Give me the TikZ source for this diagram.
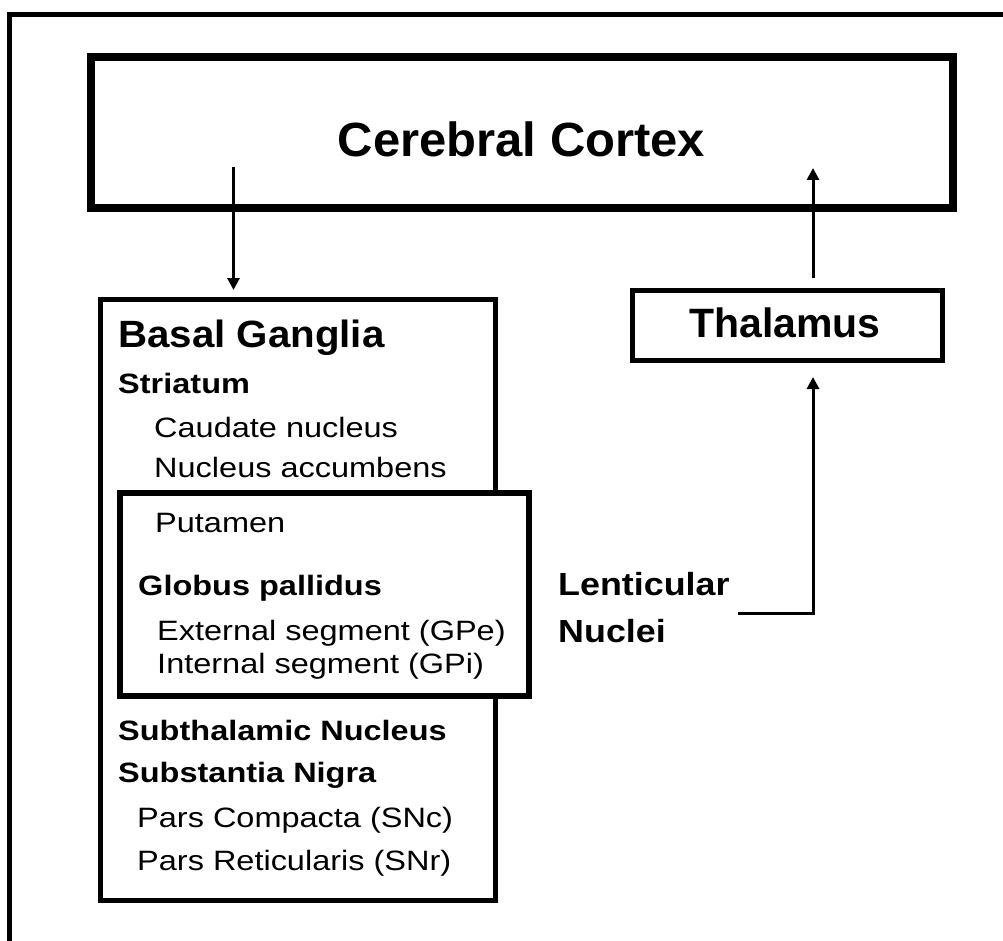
\documentclass[tikz,border=0pt]{standalone}
\usepackage{fontspec}
\setmainfont{Liberation Sans}
\usetikzlibrary{arrows.meta}
\tikzset{
  box/.style={draw=black, fill=white, rectangle, inner sep=0pt},
  arr/.style={line width=3pt, -{Triangle[length=12pt,width=12pt]}},
  sm/.style={font=\fontsize{28}{30}\selectfont, xscale=1.16, anchor=base west, inner sep=0pt},
  smb/.style={font=\fontsize{28}{30}\selectfont\bfseries, xscale=1.16, anchor=base west, inner sep=0pt},
  lent/.style={font=\fontsize{32}{34}\selectfont\bfseries, xscale=1.12, anchor=base west, inner sep=0pt},
}
\begin{document}
\begin{tikzpicture}[x=1pt,y=-1pt]
\useasboundingbox[fill=white] (0,0) rectangle (1003,941);
% outer frame (top and left visible)
\draw[line width=5pt] (9.5,941) -- (9.5,14.5) -- (1003,14.5);
% boxes
\node[box, line width=8pt, minimum width=862pt, minimum height=151pt] (cortex) at (522,132.5) {};
\node[font=\fontsize{48}{50}\selectfont\bfseries, xscale=1.02, anchor=base, inner sep=0pt] (cortext) at (521.5,157) {Cerebral Cortex};
\node[box, line width=5pt, minimum width=310pt, minimum height=70pt] (thal) at (787.5,325.5) {};
\node[font=\fontsize{41}{43}\selectfont\bfseries, anchor=base, inner sep=0pt] (thaltext) at (785,337) {Thalamus};
\node[box, line width=5pt, minimum width=395pt, minimum height=601pt] (bg) at (298,600) {};
\node[box, line width=6.5pt, minimum width=409pt, minimum height=203pt] (lbox) at (324.5,594.5) {};
% texts in basal ganglia
\node[font=\fontsize{38}{40}\selectfont\bfseries, xscale=1.06, anchor=base west, inner sep=0pt] (bgt) at (118,347) {Basal Ganglia};
\node[smb] (str) at (118,393) {Striatum};
\node[sm] (cau) at (154,437) {Caudate nucleus};
\node[sm] (acc) at (154,477) {Nucleus accumbens};
\node[sm] (put) at (155,532) {Putamen};
\node[smb] (gp) at (138,595) {Globus pallidus};
\node[sm] (gpe) at (157,640) {External segment (GPe)};
\node[sm] (gpi) at (157,673) {Internal segment (GPi)};
\node[smb] (stn) at (118,740) {Subthalamic Nucleus};
\node[smb] (sn) at (118,782) {Substantia Nigra};
\node[sm] (snc) at (137,827) {Pars Compacta (SNc)};
\node[sm] (snr) at (137,870) {Pars Reticularis (SNr)};
% lenticular label
\node[lent] (len1) at (558,595) {Lenticular};
\node[lent] (len2) at (558,642) {Nuclei};
% connectors
\coordinate (d0) at (233.5,167);
\draw[arr, shorten >=7pt] (d0) -- (d0 |- bg.north);
\coordinate (u1) at (813,168);
\draw[arr, shorten <=10pt] (u1 |- thal.north) -- (u1);
\coordinate (l0) at (738,613);
\draw[arr, shorten >=14pt] (l0) -- (l0 -| u1) -- (u1 |- thal.south);
\end{tikzpicture}
\end{document}
